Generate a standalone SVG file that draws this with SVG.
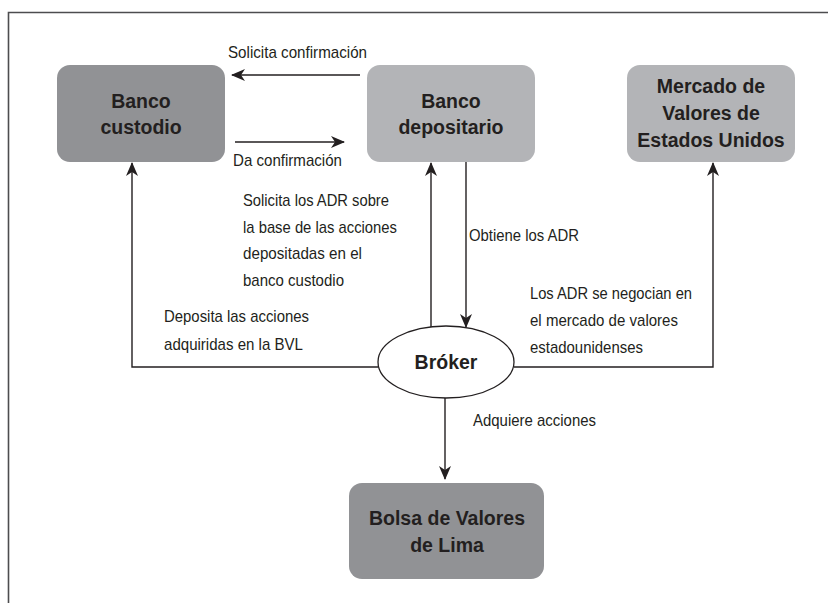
<svg xmlns="http://www.w3.org/2000/svg" width="828" height="603" viewBox="0 0 828 603">
<defs>
<marker id="ah" markerUnits="userSpaceOnUse" markerWidth="14" markerHeight="12" viewBox="0 0 14 12" refX="13" refY="6" orient="auto">
<path d="M0,0 L14,6 L0,12 L4,6 z" fill="#231f20"/>
</marker>
<style>
.frame{fill:none;stroke:#4d4d4f;stroke-width:1.6}
.box{stroke:none}
.dark{fill:#919295}
.light{fill:#b3b4b7}
.bl{font-family:"Liberation Sans",Arial,sans-serif;font-weight:bold;font-size:19.5px;fill:#231f20;text-anchor:middle}
.lb{font-family:"Liberation Sans",Arial,sans-serif;font-size:17px;fill:#231f20}
.c{fill:none;stroke:#231f20;stroke-width:1.4}
.a{marker-end:url(#ah)}
</style>
</defs>
<rect width="828" height="603" fill="#ffffff"/>
<path class="frame" d="M8.5,603 L8.5,12.5 L828,12.5"/>

<g id="connectors">
<line class="c a" x1="360" y1="75" x2="232" y2="75"/>
<line class="c a" x1="235" y1="142" x2="344" y2="142"/>
<polyline class="c a" points="378,367 132,367 132,163"/>
<line class="c a" x1="431" y1="333" x2="431" y2="163"/>
<line class="c a" x1="466" y1="162" x2="466" y2="327"/>
<polyline class="c a" points="514,367 713,367 713,163"/>
<line class="c a" x1="445" y1="398" x2="445" y2="479"/>
</g>

<g id="labels">
<text class="lb" x="228" y="58" textLength="139" lengthAdjust="spacingAndGlyphs">Solicita confirmación</text>
<text class="lb" x="233" y="166" textLength="109" lengthAdjust="spacingAndGlyphs">Da confirmación</text>
<text class="lb" x="243" y="206" textLength="146" lengthAdjust="spacingAndGlyphs">Solicita los ADR sobre</text>
<text class="lb" x="243" y="233" textLength="154" lengthAdjust="spacingAndGlyphs">la base de las acciones</text>
<text class="lb" x="243" y="259" textLength="119" lengthAdjust="spacingAndGlyphs">depositadas en el</text>
<text class="lb" x="243" y="286" textLength="101" lengthAdjust="spacingAndGlyphs">banco custodio</text>
<text class="lb" x="469" y="241" textLength="110" lengthAdjust="spacingAndGlyphs">Obtiene los ADR</text>
<text class="lb" x="164" y="322" textLength="145" lengthAdjust="spacingAndGlyphs">Deposita las acciones</text>
<text class="lb" x="164" y="350" textLength="139" lengthAdjust="spacingAndGlyphs">adquiridas en la BVL</text>
<text class="lb" x="530" y="299" textLength="162" lengthAdjust="spacingAndGlyphs">Los ADR se negocian en</text>
<text class="lb" x="530" y="326" textLength="148" lengthAdjust="spacingAndGlyphs">el mercado de valores</text>
<text class="lb" x="530" y="353" textLength="113" lengthAdjust="spacingAndGlyphs">estadounidenses</text>
<text class="lb" x="473" y="426" textLength="123" lengthAdjust="spacingAndGlyphs">Adquiere acciones</text>
</g>

<g id="banco-custodio">
<rect class="box dark" x="57" y="65" width="168" height="97" rx="13"/>
<text class="bl" x="141" y="108">Banco</text>
<text class="bl" x="141" y="134">custodio</text>
</g>

<g id="banco-depositario">
<rect class="box light" x="367" y="65" width="168" height="97" rx="13"/>
<text class="bl" x="451" y="108">Banco</text>
<text class="bl" x="451" y="134">depositario</text>
</g>

<g id="mercado-eeuu">
<rect class="box light" x="627" y="65" width="168" height="97" rx="13"/>
<text class="bl" x="711" y="93">Mercado de</text>
<text class="bl" x="711" y="120">Valores de</text>
<text class="bl" x="711" y="147">Estados Unidos</text>
</g>

<g id="broker">
<ellipse cx="446" cy="362" rx="68" ry="36" fill="#ffffff" stroke="#231f20" stroke-width="1.3"/>
<text class="bl" x="446" y="369">Bróker</text>
</g>

<g id="bvl">
<rect class="box dark" x="349" y="483" width="195" height="96" rx="13"/>
<text class="bl" x="447" y="525">Bolsa de Valores</text>
<text class="bl" x="447" y="552">de Lima</text>
</g>
</svg>
